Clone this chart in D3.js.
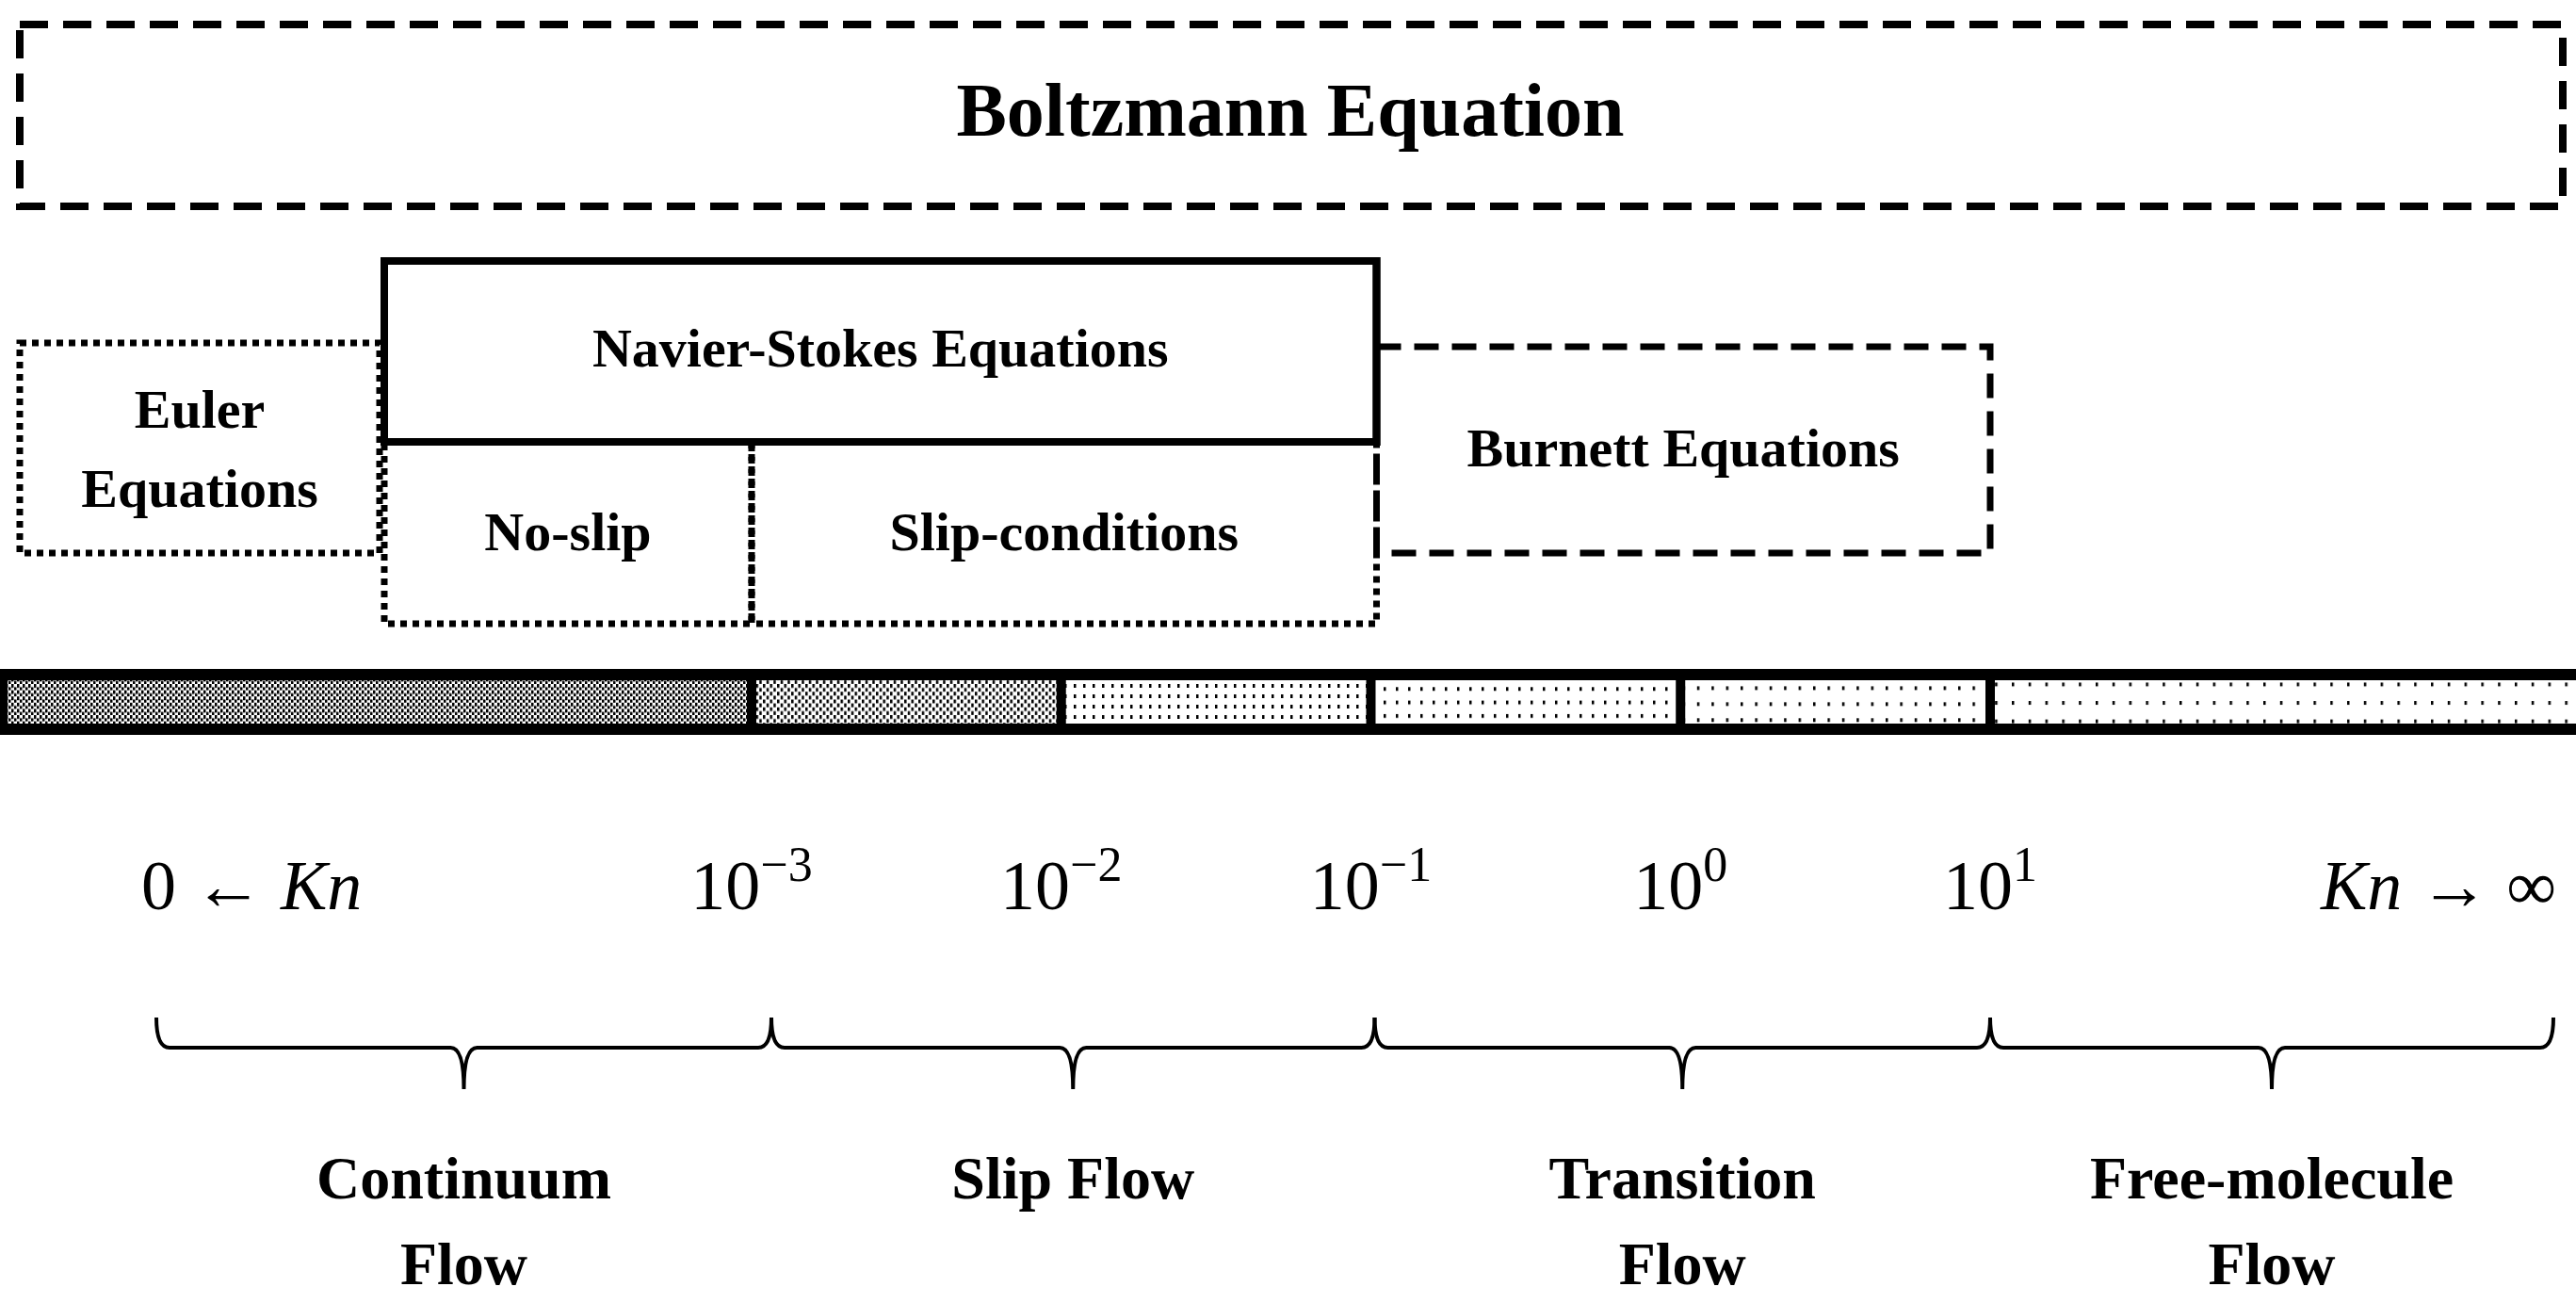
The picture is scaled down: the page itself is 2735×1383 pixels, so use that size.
<!DOCTYPE html>
<html><head><meta charset="utf-8">
<script src="https://cdn.jsdelivr.net/npm/d3@7"></script>
<style>body{margin:0;background:#fff}svg{display:block}</style>
</head><body>
<script>
// ---- data ----
const knBoundaries = [1e-3, 1e-2, 1e-1, 1, 10];
const tickExponents = ["−3", "−2", "−1", "0", "1"];
const regimes = ["Continuum|Flow", "Slip Flow", "Transition|Flow", "Free-molecule|Flow"];
const segmentDensity = [6, 5, 4, 3, 2.2, 1.4]; // relative pattern darkness
const modelBoxes = [
  {label:"Euler|Equations", style:"dotted"},
  {label:"Navier-Stokes Equations", style:"solid"},
  {label:"No-slip", style:"dotted"},
  {label:"Slip-conditions", style:"dotted"},
  {label:"Burnett Equations", style:"dashed"}
];

const W = 2735, H = 1383;
const svg = d3.select("body").append("svg").attr("width", W).attr("height", H);
const x = d3.scaleLog().domain([1e-3, 10]).range([798, 2113]);
const X = v => v === 0 ? 8 : v === Infinity ? 2735 : x(v);
const serif = "'Liberation Serif','DejaVu Serif',serif";

// Boltzmann box
svg.append("rect").attr("x",21).attr("y",26).attr("width",2700).attr("height",193)
  .attr("fill","none").attr("stroke","#000").attr("stroke-width",8).attr("stroke-dasharray","30,16");
svg.append("text").attr("x",1370).attr("y",126).attr("text-anchor","middle").attr("dominant-baseline","middle")
  .attr("font-family",serif).attr("font-weight","bold").attr("font-size",80).text("Boltzmann Equation");

// model boxes
const dash = {dotted:"7,6", dashed:"26,14", solid:null};
const boxGeom = [
  {x0:21, x1:403, y0:364, y1:587, ty:[441,525]},
  {x0:X(1e-3)-390, x1:X(1e-1)+6, y0:277, y1:469, ty:[376]},
  {x0:X(1e-3)-390, x1:X(1e-3), y0:469, y1:662, ty:[571]},
  {x0:X(1e-3), x1:X(1e-1)+6, y0:469, y1:662, ty:[571]},
  {x0:X(1e-1)+6, x1:X(10), y0:368, y1:587, ty:[482]}
];
modelBoxes.forEach((b,i)=>{
  const g = boxGeom[i];
  svg.append("rect").attr("x",g.x0).attr("y",g.y0).attr("width",g.x1-g.x0).attr("height",g.y1-g.y0)
    .attr("fill","none").attr("stroke","#000").attr("stroke-width",b.style==="solid"?8:7)
    .attr("stroke-dasharray",dash[b.style]);
  b.label.split("|").forEach((t,j)=>{
    svg.append("text").attr("x",(g.x0+g.x1)/2).attr("y",g.ty[j]).attr("text-anchor","middle")
      .attr("dominant-baseline","middle").attr("font-family",serif).attr("font-weight","bold")
      .attr("font-size",58).text(t);
  });
});
svg.append("rect").attr("x",boxGeom[1].x0).attr("y",277).attr("width",boxGeom[1].x1-boxGeom[1].x0).attr("height",192)
  .attr("fill","none").attr("stroke","#000").attr("stroke-width",8);

// patterns
const defs = svg.append("defs");
const edges = [0, ...knBoundaries, Infinity];
segmentDensity.forEach((d,i)=>{
  const two = d > 4.5;
  const sp = two ? 6 + (6-d)*1.5 : 4 + (6-d)*3;
  const p = defs.append("pattern").attr("id","p"+i).attr("patternUnits","userSpaceOnUse")
    .attr("width",sp).attr("height",sp*1.1);
  p.append("rect").attr("width",sp).attr("height",sp*1.1).attr("fill","#fff");
  const r = 2.5;
  p.append("rect").attr("x",0).attr("y",0).attr("width",r).attr("height",r*1.6).attr("fill","#000");
  if (two) p.append("rect").attr("x",sp/2).attr("y",sp*0.55).attr("width",r).attr("height",r*1.6).attr("fill","#000");
});
svg.append("rect").attr("x",0).attr("y",710).attr("width",W).attr("height",70).attr("fill","#000");
d3.range(6).forEach(i=>{
  svg.append("rect").attr("x",X(edges[i])+ (i?5:0)).attr("y",722)
    .attr("width",Math.min(X(edges[i+1]),W)-X(edges[i])-(i?5:0)-(i<5?5:0)).attr("height",46)
    .attr("fill",`url(#p${i})`);
});

// tick labels
const tk = svg.append("g").attr("font-family",serif).attr("font-size",74);
tk.append("text").attr("x",150).attr("y",965).call(t=>{
  t.append("tspan").text("0 ← ");
  t.append("tspan").attr("font-style","italic").text("Kn");
});
knBoundaries.forEach((v,i)=>{
  const t = tk.append("text").attr("x",x(v)).attr("y",965).attr("text-anchor","middle");
  t.append("tspan").text("10");
  t.append("tspan").attr("dy",-30).attr("font-size",52).text(tickExponents[i]);
});
tk.append("text").attr("x",2714).attr("y",965).attr("text-anchor","end").call(t=>{
  t.append("tspan").attr("font-style","italic").text("Kn");
  t.append("tspan").text(" → ∞");
});

// braces
const bx = [166, X(1e-3)+21, X(1e-1)+4, X(10), 2711];
regimes.forEach((name,i)=>{
  const a = bx[i], b = bx[i+1], m = (a+b)/2, y0 = 1080, y1 = 1112, y2 = 1156, r = 14;
  const path = `M${a},${y0} Q${a},${y1} ${a+r},${y1} L${m-r},${y1} Q${m},${y1} ${m},${y2} Q${m},${y1} ${m+r},${y1} L${b-r},${y1} Q${b},${y1} ${b},${y0}`;
  svg.append("path").attr("d",path).attr("fill","none").attr("stroke","#000").attr("stroke-width",4);
  name.split("|").forEach((t,j)=>{
    svg.append("text").attr("x",m).attr("y",1257+j*91).attr("text-anchor","middle").attr("dominant-baseline","middle")
      .attr("font-family",serif).attr("font-weight","bold").attr("font-size",64).text(t);
  });
});
</script>
</body></html>
